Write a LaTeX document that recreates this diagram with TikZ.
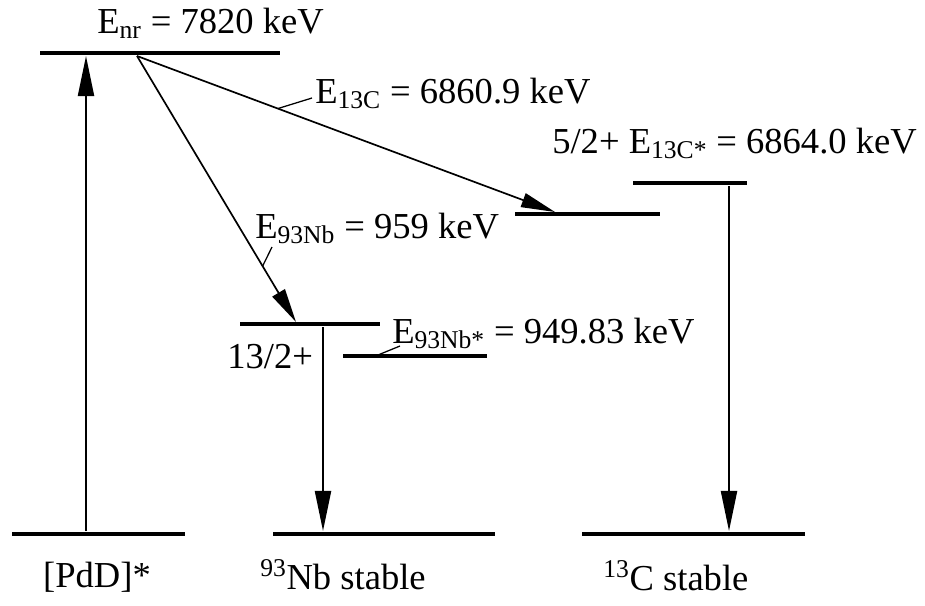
\documentclass[tikz,border=0pt]{standalone}
\usepackage{fontspec}
\setmainfont{Liberation Serif}
\usetikzlibrary{arrows.meta, positioning, calc}

\begin{document}
\begin{tikzpicture}[
        x=0.025cm, y=-0.025cm,
        level/.style={line width=3.5pt},
        trans/.style={line width=1.5pt, -{Triangle[length=1cm, width=0.4cm]}},
        feed/.style={line width=1.2pt, -{Triangle[length=0.85cm, width=0.36cm]}},
        leader/.style={line width=0.9pt},
        lbl/.style={inner sep=0pt, font=\fontsize{26}{30}\selectfont},
    ]
        \useasboundingbox (0,0) rectangle (925,605);

        % energy levels
        \coordinate (nrL) at (40,53);   \coordinate (nrR) at (280,53);
        \coordinate (pdL) at (12,534);  \coordinate (pdR) at (185,534);
        \coordinate (nbL) at (273,534); \coordinate (nbR) at (495,534);
        \coordinate (cL) at (582,534);  \coordinate (cR) at (805,534);
        \coordinate (nbxL) at (240,324); \coordinate (nbxR) at (380,324);
        \coordinate (nbsL) at (343,356); \coordinate (nbsR) at (487,356);
        \coordinate (cfL) at (515,214); \coordinate (cfR) at (660,214);
        \coordinate (cxL) at (633,183); \coordinate (cxR) at (747,183);

        \foreach \a/\b in {nrL/nrR, pdL/pdR, nbL/nbR, cL/cR, nbxL/nbxR,
                           nbsL/nbsR, cfL/cfR, cxL/cxR}
            \draw[level] (\a) -- (\b);

        % transitions
        \coordinate (pdUp) at (86,531);  \coordinate (nrUp) at (86,56);
        \coordinate (src) at (137,56);
        \coordinate (nbHit) at (296,322);
        \coordinate (cHit) at (555,212);
        \coordinate (nbxDn) at (323,327); \coordinate (nbDn) at (323,531);
        \coordinate (cxDn) at (729,186);  \coordinate (cDn) at (729,531);

        \draw[trans] (pdUp) -- (nrUp);
        \draw[feed] (src) -- (nbHit);
        \draw[feed] (src) -- (cHit);
        \draw[trans] (nbxDn) -- (nbDn);
        \draw[trans] (cxDn) -- (cDn);

        % labels
        \node[lbl, anchor=base west] (enr) at (97,33) {E\textsubscript{nr} = 7820 keV};
        \node[lbl, anchor=base west] (e13c) at (315,103) {E\textsubscript{13C} = 6860.9 keV};
        \node[lbl, anchor=base west] (e93nb) at (255,238) {E\textsubscript{93Nb} = 959 keV};
        \node[lbl, anchor=base west] (e13cx) at (552,153) {5/2+ E\textsubscript{13C*} = 6864.0 keV};
        \node[lbl, anchor=base west] (e93nbx) at (392,343) {E\textsubscript{93Nb*} = 949.83 keV};
        \node[lbl, anchor=base west] (spin) at (227,368) {13/2+};
        \node[lbl, anchor=base] (pdd) at (97,587) {[PdD]*};
        \node[lbl, anchor=base west] (nbst) at (260,589) {\textsuperscript{93}Nb stable};
        \node[lbl, anchor=base west] (cst) at (603,590) {\textsuperscript{13}C stable};

        % leaders
        \coordinate (l1a) at ($(src)!0.337!(cHit)$);  \coordinate (l1b) at (312,98);
        \coordinate (l2a) at ($(src)!0.79!(nbHit)$);  \coordinate (l2b) at (272,247);
        \coordinate (l3a) at (378,355);                \coordinate (l3b) at (400,346);
        \draw[leader] (l1a) -- (l1b);
        \draw[leader] (l2a) -- (l2b);
        \draw[leader] (l3a) -- (l3b);

    \end{tikzpicture}
\end{document}
